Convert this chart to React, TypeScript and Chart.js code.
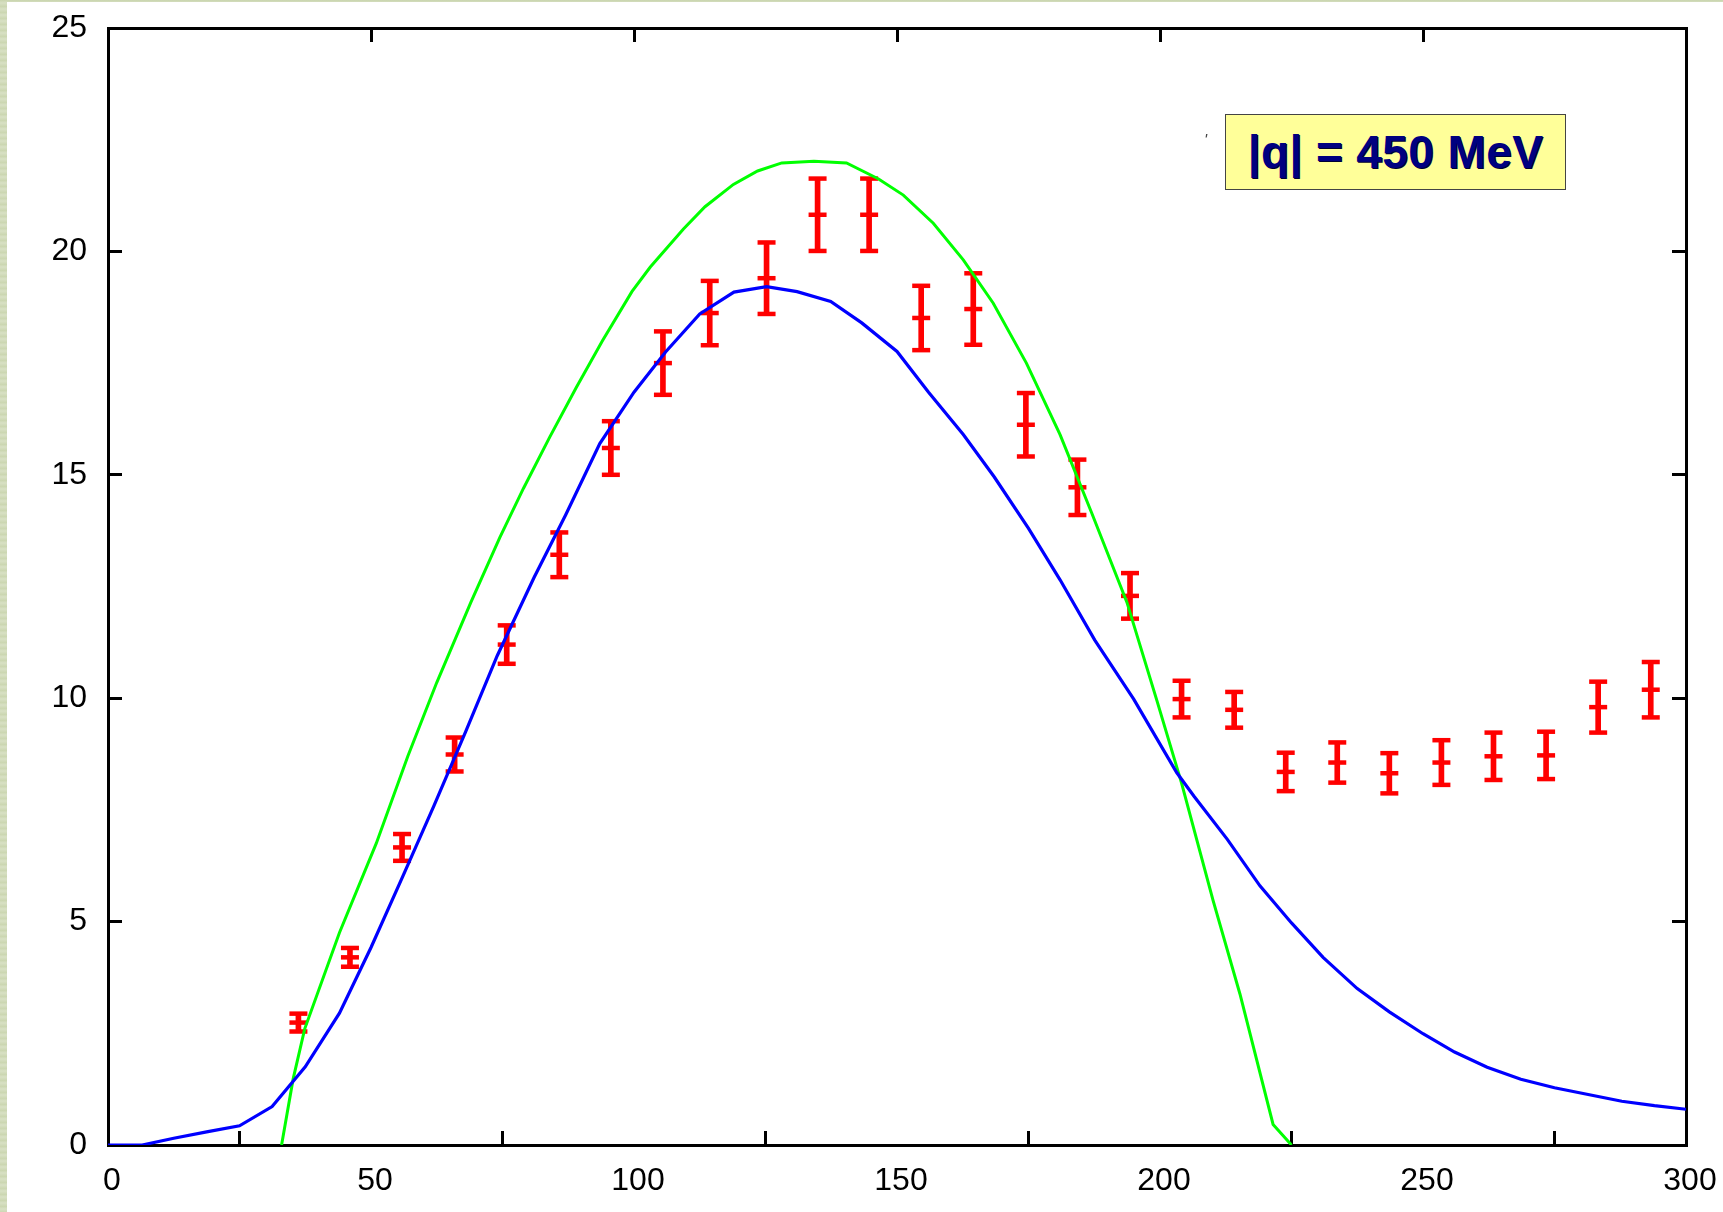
import React, { useEffect, useRef } from "react";
import { Chart, registerables } from "chart.js";

Chart.register(...registerables);

// Measured points with error bars
const energyPoints = [36.2, 46.0, 55.9, 65.9, 75.8, 85.8, 95.6, 105.5, 114.4, 125.2, 134.9, 144.7, 154.6, 164.5, 174.5, 184.3, 194.3, 204.1, 214.1, 223.9, 233.7, 243.6, 253.5, 263.4, 273.4, 283.3, 293.3];
const measuredValues = [2.74, 4.2, 6.66, 8.74, 11.2, 13.21, 15.6, 17.5, 18.62, 19.4, 20.82, 20.82, 18.51, 18.71, 16.12, 14.72, 12.29, 9.98, 9.74, 8.35, 8.56, 8.32, 8.56, 8.7, 8.72, 9.8, 10.19];
const measuredErrors = [0.2, 0.21, 0.3, 0.38, 0.43, 0.5, 0.6, 0.71, 0.72, 0.8, 0.81, 0.81, 0.72, 0.8, 0.71, 0.62, 0.51, 0.41, 0.4, 0.43, 0.45, 0.45, 0.5, 0.53, 0.53, 0.57, 0.62];

// Blue model curve
const blueX = [0, 6.5, 12.5, 19, 25, 31.2, 37.5, 44, 50, 56, 62, 68, 74, 81, 87, 93.5, 100, 106, 112.5, 119, 125.2, 131, 137.4, 143.3, 150, 156, 162.6, 168.5, 175, 181, 187.6, 195, 203.2, 206.5, 212.8, 219, 225, 231, 237.5, 243.6, 250, 256, 262.2, 268.6, 275, 281.4, 287.8, 294, 300];
const blueY = [0, 0, 0.15, 0.3, 0.43, 0.86, 1.75, 2.95, 4.42, 6.0, 7.6, 9.25, 10.95, 12.7, 14.1, 15.7, 16.85, 17.75, 18.6, 19.09, 19.21, 19.1, 18.88, 18.4, 17.76, 16.85, 15.9, 14.95, 13.8, 12.65, 11.3, 9.98, 8.33, 7.8, 6.84, 5.8, 4.97, 4.2, 3.5, 2.98, 2.49, 2.08, 1.74, 1.47, 1.28, 1.13, 0.98, 0.88, 0.8];

// Green model curve
const greenX = [33, 35.2, 37.4, 44, 51, 57, 62.5, 69, 74.5, 79, 84, 89, 94, 99.6, 103.1, 109.4, 113.5, 118.9, 123.5, 128.1, 134.2, 140.4, 146.5, 151.2, 156.9, 162.6, 168.3, 174.6, 181, 187, 193.7, 199.4, 204.1, 210.1, 215.2, 221.5, 225];
const greenY = [0, 1.48, 2.6, 4.75, 6.75, 8.7, 10.35, 12.15, 13.6, 14.7, 15.85, 16.95, 18.0, 19.1, 19.65, 20.5, 21.0, 21.5, 21.8, 21.98, 22.02, 21.98, 21.62, 21.26, 20.63, 19.81, 18.84, 17.5, 15.9, 14.15, 12.15, 9.95, 8.1, 5.47, 3.38, 0.46, 0];

const xTickValues = [0, 50, 100, 150, 200, 250, 300];
const yTickValues = [0, 5, 10, 15, 20, 25];
const labelText = "|q| = 450 MeV";

export default function App() {
  const ref = useRef<HTMLCanvasElement>(null);

  useEffect(() => {
    const canvas = ref.current;
    if (!canvas) return;
    const font = { family: "'Liberation Sans', Arial, sans-serif", size: 32 };
    const fixW = (w: number) => (s: any) => {
      s.width = w;
      s.paddingTop = 0;
      s.paddingBottom = 0;
    };
    const fixH = (h: number) => (s: any) => {
      s.height = h;
      s.paddingLeft = 0;
      s.paddingRight = 0;
    };
    const setTicks = (vals: number[]) => (s: any) => { s.ticks = vals.map((v) => ({ value: v })); };
    const gridOpts = {
      display: true,
      drawOnChartArea: false,
      drawTicks: true,
      tickLength: -14,
      tickWidth: 3,
      tickColor: "#000",
      color: "#000",
      lineWidth: 3,
    };
    const borderOpts = { display: true, color: "#000", width: 3 };

    const caps: { x: number; y: number }[] = [];
    energyPoints.forEach((x, i) => {
      caps.push({ x, y: measuredValues[i] - measuredErrors[i] });
      caps.push({ x, y: measuredValues[i] + measuredErrors[i] });
      caps.push({ x, y: measuredValues[i] });
    });

    const chart = new Chart(canvas, {
      type: "line",
      data: {
        datasets: [
          {
            type: "line",
            data: blueX.map((x, i) => ({ x, y: blueY[i] })),
            borderColor: "#0000ff",
            borderWidth: 3.2,
            pointRadius: 0,
            tension: 0,
            fill: false,
          },
          {
            type: "line",
            data: greenX.map((x, i) => ({ x, y: greenY[i] })),
            borderColor: "#00ff00",
            borderWidth: 3,
            pointRadius: 0,
            tension: 0,
            fill: false,
          },
          {
            type: "line",
            data: caps,
            showLine: false,
            pointStyle: "line",
            pointRadius: 9,
            pointBorderWidth: 4.5,
            pointBorderColor: "#ff0000",
            borderColor: "#ff0000",
            pointBackgroundColor: "#ff0000",
          },
          {
            type: "bar",
            data: energyPoints.map((x, i) => ({
              x,
              y: [measuredValues[i] - measuredErrors[i], measuredValues[i] + measuredErrors[i]],
            })),
            backgroundColor: "#ff0000",
            borderWidth: 0,
            barThickness: 5,
          },
        ],
      } as any,
      options: {
        animation: false,
        responsive: false,
        events: [],
        layout: { padding: { left: 8, top: 28, right: 37, bottom: 0 } },
        plugins: { legend: { display: false }, tooltip: { enabled: false }, title: { display: false } },
        scales: {
          x: {
            type: "linear",
            position: "bottom",
            min: 0,
            max: 300,
            offset: false,
            afterBuildTicks: setTicks(xTickValues),
            afterFit: fixH(67),
            grid: gridOpts,
            border: borderOpts,
            ticks: { font, color: "#000", padding: 31, labelOffset: 4, maxRotation: 0, autoSkip: false, callback: (v: any) => String(v) },
          },
          x2: {
            type: "linear",
            position: "top",
            min: 0,
            max: 300,
            offset: false,
            afterBuildTicks: setTicks(xTickValues),
            afterFit: fixH(0),
            grid: gridOpts,
            border: borderOpts,
            ticks: { display: false },
          },
          y: {
            type: "linear",
            position: "left",
            min: 0,
            max: 25,
            afterBuildTicks: setTicks(yTickValues),
            afterFit: fixW(100),
            grid: gridOpts,
            border: borderOpts,
            ticks: { font, color: "#000", padding: 35, autoSkip: false, callback: (v: any) => String(v) },
          },
          y2: {
            type: "linear",
            position: "right",
            min: 0,
            max: 25,
            afterBuildTicks: setTicks(yTickValues),
            afterFit: fixW(0),
            grid: gridOpts,
            border: borderOpts,
            ticks: { display: false },
          },
        },
      } as any,
    });
    return () => chart.destroy();
  }, []);

  return (
    <div
      style={{
        position: "fixed",
        left: 0,
        top: 0,
        width: 1723,
        height: 1212,
        background: "repeating-linear-gradient(0deg, #cdd8b4 0px, #d8e0c4 3px, #c9d5ae 6px)",
        overflow: "hidden",
      }}
    >
      <div style={{ position: "absolute", left: 7, top: 2, right: 0, bottom: 0, background: "#ffffff" }} />
      <canvas
        ref={ref}
        width={1723}
        height={1212}
        style={{ position: "absolute", left: 0, top: 0, width: 1723, height: 1212 }}
      />
      <div
        style={{
          position: "absolute",
          left: 1204,
          top: 132,
          font: "italic 16px 'Liberation Sans', Arial, sans-serif",
          color: "#444",
        }}
      >
        '
      </div>
      <div
        style={{
          position: "absolute",
          left: 1225,
          top: 114,
          width: 341,
          height: 76,
          boxSizing: "border-box",
          background: "#ffff99",
          border: "1px solid #444",
          display: "flex",
          alignItems: "center",
          justifyContent: "center",
          font: "bold 46px 'Liberation Sans', Arial, sans-serif",
          letterSpacing: "0.4px",
          color: "#000080",
          textShadow: "1px 1px 0 #000033",
          whiteSpace: "pre",
        }}
      >
        {labelText}
      </div>
    </div>
  );
}
